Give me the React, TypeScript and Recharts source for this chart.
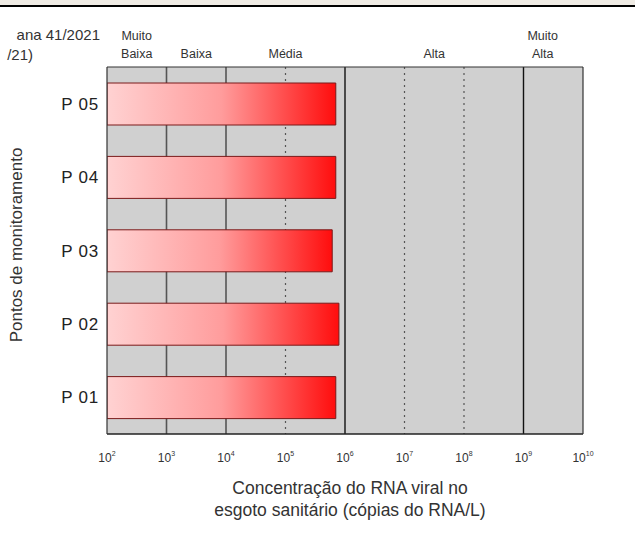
import React from "react";
import { BarChart, Bar, XAxis, YAxis, CartesianGrid } from "recharts";

const FONT = "'Liberation Sans', Arial, sans-serif";

// sampling points and viral RNA concentration (copies/L)
const points = ["P 05", "P 04", "P 03", "P 02", "P 01"];
const concentration = [7.0e5, 7.0e5, 6.1e5, 7.9e5, 7.0e5];

const decadeTicks = [1e2, 1e3, 1e4, 1e5, 1e6, 1e7, 1e8, 1e9, 1e10];
const minorSteps = [2, 3, 4, 5, 6, 7, 8, 9];
const minorTicks = decadeTicks.slice(0, -1).flatMap((d) => minorSteps.map((m) => m * d));

// risk level bands above the plot
const levelNames = [["Muito", "Baixa"], ["Baixa"], ["Média"], ["Alta"], ["Muito", "Alta"]];
const levelCenters = [316, 3162, 1e5, 3.16e7, 2.1e9];

const grayLines = [1e3, 1e4];
const blackLines = [1e6, 1e9];
const dottedLines = [1e5, 1e7, 1e8];

const data = points.map((name, i) => ({ name, value: concentration[i] }));

const PowerTick = (props: any) => {
  const { x, y, payload } = props;
  const exp = Math.round(Math.log10(payload.value));
  return (
    <text x={x} y={y + 20} textAnchor="middle" fill="#333" fontSize={12} fontFamily={FONT}>
      <tspan>10</tspan>
      <tspan dy={-6} fontSize={7}>{exp}</tspan>
    </text>
  );
};

const LevelTick = (props: any) => {
  const { x, index } = props;
  const lines = levelNames[index] || [];
  const base = lines.length > 1 ? 40 : 58;
  return (
    <text x={x} textAnchor="middle" fill="#333" fontSize={12.5} fontFamily={FONT}>
      {lines.map((l, i) => (
        <tspan key={i} x={x} y={base + i * 18}>{l}</tspan>
      ))}
    </text>
  );
};

export default function App() {
  return (
    <div style={{ position: "absolute", left: 0, top: 0, width: 635, height: 545, background: "#fff", overflow: "hidden" }}>
      <div style={{ position: "absolute", left: 0, top: 0, width: 635, height: 4.5, background: "#efebe4" }} />
      <div style={{ position: "absolute", left: 0, top: 4.5, width: 635, height: 2.5, background: "#000" }} />
      <div style={{ position: "absolute", left: 0, top: 0 }}>
        <BarChart
          width={635}
          height={545}
          data={data}
          layout="vertical"
          margin={{ top: 27, right: 52, bottom: 81, left: 0 }}
          barSize={42}
        >
          <defs>
            <linearGradient id="barGrad" x1="0" y1="0" x2="1" y2="0">
              <stop offset="0%" stopColor="#ffd2d2" />
              <stop offset="50%" stopColor="#ff9c9c" />
              <stop offset="100%" stopColor="#ff0d0d" />
            </linearGradient>
          </defs>
          <CartesianGrid horizontal={false} verticalValues={grayLines} stroke="#555" strokeWidth={1.6} fill="#d0d0d0" fillOpacity={1} />
          <CartesianGrid horizontal={false} verticalValues={blackLines} stroke="#111" strokeWidth={1.4} />
          <CartesianGrid horizontal={false} verticalValues={dottedLines} stroke="#555" strokeWidth={1.2} strokeDasharray="2 4" />
          <XAxis
            type="number"
            scale="log"
            domain={[1e2, 1e10]}
            ticks={decadeTicks}
            interval={0}
            allowDataOverflow
            tick={<PowerTick />}
            tickLine={false}
            axisLine={{ stroke: "#222", strokeWidth: 1.5 }}
            height={30}
          />
          <XAxis
            xAxisId="major"
            type="number"
            scale="log"
            domain={[1e2, 1e10]}
            ticks={decadeTicks}
            interval={0}
            allowDataOverflow
            mirror
            tick={false}
            tickSize={6}
            tickLine={{ stroke: "#333" }}
            axisLine={false}
          />
          <XAxis
            xAxisId="minor"
            type="number"
            scale="log"
            domain={[1e2, 1e10]}
            ticks={minorTicks}
            interval={0}
            allowDataOverflow
            mirror
            tick={false}
            tickSize={3}
            tickLine={{ stroke: "#555" }}
            axisLine={false}
          />
          <XAxis
            xAxisId="top"
            orientation="top"
            type="number"
            scale="log"
            domain={[1e2, 1e10]}
            ticks={levelCenters}
            interval={0}
            allowDataOverflow
            tick={<LevelTick />}
            tickLine={false}
            axisLine={{ stroke: "#333", strokeWidth: 1.2 }}
            height={40}
          />
          <YAxis
            type="category"
            dataKey="name"
            width={107}
            tick={{ fill: "#222", fontSize: 17, fontFamily: FONT, letterSpacing: 0.8 }}
            tickLine={false}
            axisLine={{ stroke: "#333", strokeWidth: 1.2 }}
          />
          <YAxis
            yAxisId="right"
            orientation="right"
            type="category"
            dataKey="name"
            mirror
            tick={false}
            tickLine={false}
            axisLine={{ stroke: "#333", strokeWidth: 1.2 }}
          />
          <Bar dataKey="value" fill="url(#barGrad)" stroke="#7a1a1a" strokeWidth={1} isAnimationActive={false} />
          <g fontFamily={FONT} fill="#333">
            <text x={100} y={40} textAnchor="end" fontSize={15}>ana 41/2021</text>
            <text x={33} y={60} textAnchor="end" fontSize={15}>/21)</text>
            <text x={22} y={245} textAnchor="middle" fontSize={17} transform="rotate(-90 22 245)">
              Pontos de monitoramento
            </text>
            <text x={350} y={494} textAnchor="middle" fontSize={17.5}>Concentração do RNA viral no</text>
            <text x={350} y={516} textAnchor="middle" fontSize={17.5}>esgoto sanitário (cópias do RNA/L)</text>
          </g>
        </BarChart>
      </div>
    </div>
  );
}
